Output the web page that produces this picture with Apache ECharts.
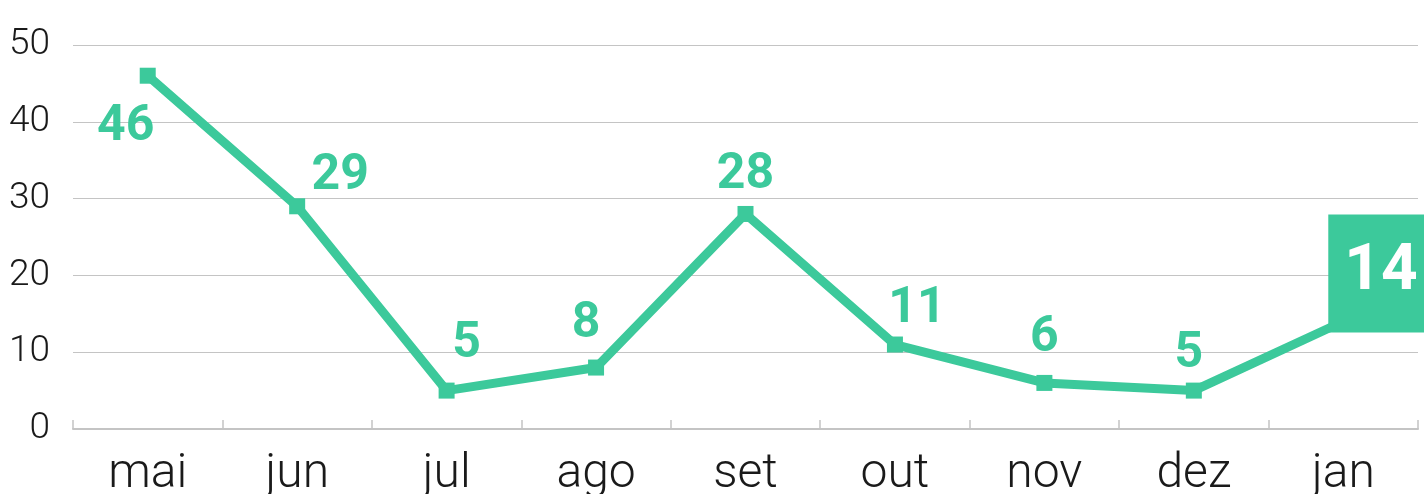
<!DOCTYPE html>
<html>
<head>
<meta charset="utf-8">
<script src="https://cdn.jsdelivr.net/npm/echarts@6/dist/echarts.min.js"></script>
<style>
html,body{margin:0;padding:0;background:#fff;}
#chart{width:1424px;height:494px;}
</style>
</head>
<body>
<div id="chart"></div>
<script>
const categories = ['mai','jun','jul','ago','set','out','nov','dez','jan'];
const values = [46, 29, 5, 8, 28, 11, 6, 5, 14];
const yTicks = [0, 10, 20, 30, 40, 50];

const GREEN = '#3CC99B';
const FONT = 'Roboto, "Noto Sans", sans-serif';

const labelOffsets = [[-22,52],[43,-30],[20,-46],[-10,-43],[0,-38],[22,-35],[0,-44],[-5,-36]];

const seriesData = values.map((v, i) => {
  if (i === values.length - 1) {
    return {
      value: v,
      label: {
        show: true, position: 'right', offset: [-28, -48],
        color: '#fff', backgroundColor: GREEN,
        fontSize: 64, fontWeight: 'bold', fontFamily: FONT,
        padding: [27, 20, 27, 16]
      }
    };
  }
  return { value: v, label: { show: true, position: 'inside', offset: labelOffsets[i] } };
});

const chart = echarts.init(document.getElementById('chart'), null, {renderer: 'canvas'});
chart.setOption({
  animation: false,
  grid: { left: 73, right: 6, top: 45, bottom: 65, containLabel: false, outerBoundsMode: 'none' },
  xAxis: {
    type: 'category',
    data: categories,
    axisLine: { show: true, lineStyle: { color: '#c4c4c4', width: 2 } },
    axisTick: { show: true, inside: true, length: 9, lineStyle: { color: '#c4c4c4', width: 1.5 } },
    axisLabel: { color: '#1a1a1a', fontSize: 48, fontFamily: FONT, fontWeight: 300, margin: 22 }
  },
  yAxis: {
    type: 'value',
    min: yTicks[0], max: yTicks[yTicks.length - 1], interval: 10,
    axisLine: { show: false },
    axisTick: { show: false },
    splitLine: { lineStyle: { color: '#c4c4c4', width: 1.2 } },
    axisLabel: { color: '#1a1a1a', fontSize: 37, fontFamily: FONT, fontWeight: 300, margin: 23 }
  },
  series: [{
    type: 'line',
    data: seriesData,
    symbol: 'rect',
    symbolSize: 16,
    lineStyle: { color: GREEN, width: 9 },
    itemStyle: { color: GREEN },
    label: { show: true, color: GREEN, fontSize: 50, fontWeight: 'bold', fontFamily: FONT },
    z: 3
  }]
});
</script>
</body>
</html>
